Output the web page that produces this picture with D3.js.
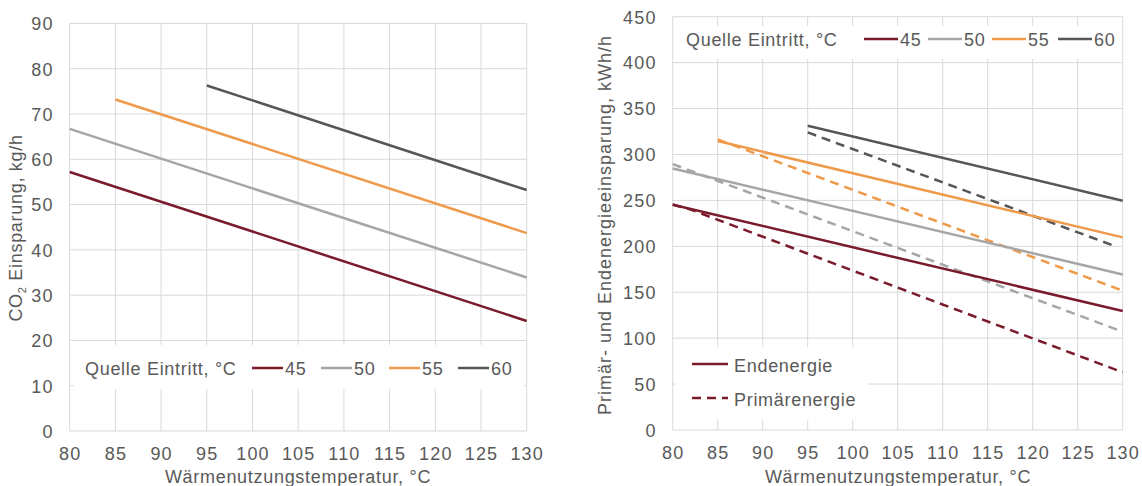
<!DOCTYPE html>
<html><head><meta charset="utf-8">
<script src="https://cdn.jsdelivr.net/npm/d3@7"></script>
<style>
body{margin:0;background:#fff;}
text{font-family:"Liberation Sans",Arial,sans-serif;fill:#595959;}
</style></head>
<body><svg id="c" width="1142" height="486"></svg>
<script>
// ---- data ----
const xTicks = [80,85,90,95,100,105,110,115,120,125,130];
const co2Ticks = [0,10,20,30,40,50,60,70,80,90];
const energyTicks = [0,50,100,150,200,250,300,350,400,450];
const sourceTemps = ["45","50","55","60"];
const seriesColors = ["#7a1b2b","#a6a6a6","#ee9a4a","#565656"];

// CO2 savings, kg/h  [temperature, value]
const co2_45 = [[80,57.2],[130,24.3]];
const co2_50 = [[80,66.7],[130,33.9]];
const co2_55 = [[85,73.2],[130,43.7]];
const co2_60 = [[95,76.3],[130,53.2]];

// Endenergie savings, kWh/h
const end_45 = [[80,245.3],[130,129.5]];
const end_50 = [[80,284.8],[130,169.4]];
const end_55 = [[85,314.6],[130,209.7]];
const end_60 = [[95,331.3],[130,249.6]];
// Primärenergie savings, kWh/h
const prim_45 = [[80,245.5],[82,240],[130,62.8]];
const prim_50 = [[80,289.5],[130,107]];
const prim_55 = [[85,316.4],[130,151.7]];
const prim_60 = [[95,324],[129.2,200]];

const svg = d3.select("#c");
const FS = 18;
const LS = "0.7px";

function panel(o){
  const x = d3.scaleLinear().domain([80,130]).range([o.x0,o.x1]);
  const y = d3.scaleLinear().domain([0,o.ymax]).range([o.y0,o.y1]);
  const g = svg.append("g");
  g.selectAll(".vg").data(xTicks).join("line")
    .attr("x1",d=>x(d)).attr("x2",d=>x(d)).attr("y1",o.y0).attr("y2",o.y1)
    .attr("stroke","#d9d9d9").attr("stroke-width",1);
  g.selectAll(".hg").data(o.yTicks).join("line")
    .attr("y1",d=>y(d)).attr("y2",d=>y(d)).attr("x1",o.x0).attr("x2",o.x1)
    .attr("stroke","#d9d9d9").attr("stroke-width",1);
  const ax = d3.axisBottom(x).tickValues(xTicks).tickSize(0).tickPadding(0);
  const ga = g.append("g").attr("transform",`translate(0,${o.y0+29})`).call(ax);
  ga.select(".domain").remove();
  ga.selectAll("text").attr("font-size",FS).attr("fill","#595959").attr("dy","0").attr("y",0)
    .style("letter-spacing","1.2px")
    .style("font-family","Liberation Sans, Arial, sans-serif");
  const ay = d3.axisLeft(y).tickValues(o.yTicks).tickSize(0).tickPadding(0);
  const gy = g.append("g").attr("transform",`translate(${o.x0-16},0)`).call(ay);
  gy.select(".domain").remove();
  gy.selectAll("text").attr("font-size",FS).attr("fill","#595959").attr("dy","0.35em").attr("x",0)
    .style("letter-spacing","1.2px")
    .style("font-family","Liberation Sans, Arial, sans-serif");
  return {x,y,g};
}

// ---------- left panel ----------
const L = panel({x0:69.7,x1:526.7,y0:431,y1:23.4,ymax:90,yTicks:co2Ticks});
const line = (p)=>d3.line().x(d=>p.x(d[0])).y(d=>p.y(d[1]));
L.g.append("rect").attr("x",74).attr("y",345).attr("width",450).attr("height",44).attr("fill","#fff");
const co2Series = [co2_45,co2_50,co2_55,co2_60];
co2Series.forEach((s,i)=>{
  L.g.append("path").datum(s).attr("d",line(L)).attr("fill","none")
    .attr("stroke",seriesColors[i]).attr("stroke-width",2.5);
});
L.g.append("text").attr("x",85).attr("y",369).attr("dy","0.35em").attr("font-size",FS).style("letter-spacing",LS).text("Quelle Eintritt, °C");
const lgX = [252,321,389,458];
sourceTemps.forEach((t,i)=>{
  L.g.append("line").attr("x1",lgX[i]).attr("x2",lgX[i]+31).attr("y1",368).attr("y2",368)
    .attr("stroke",seriesColors[i]).attr("stroke-width",2.5);
  L.g.append("text").attr("x",lgX[i]+33).attr("y",369).attr("dy","0.35em").attr("font-size",FS).style("letter-spacing",LS).text(t);
});
L.g.append("text").attr("x",298).attr("y",477).attr("dy","0.35em").attr("text-anchor","middle")
  .attr("font-size",FS).style("letter-spacing",LS).text("Wärmenutzungstemperatur, °C");
const t1 = L.g.append("text").attr("transform","translate(22,228) rotate(-90)").attr("text-anchor","middle")
  .attr("font-size",FS).style("letter-spacing",LS);
t1.append("tspan").text("CO");
t1.append("tspan").attr("font-size",11).attr("dy",4).text("2");
t1.append("tspan").attr("dy",-4).text(" Einsparung, kg/h");

// ---------- right panel ----------
const R = panel({x0:672.7,x1:1122.7,y0:430,y1:16.7,ymax:450,yTicks:energyTicks});
R.g.append("rect").attr("x",676).attr("y",26).attr("width",444).attr("height",33).attr("fill","#fff");
R.g.append("rect").attr("x",676).attr("y",347).attr("width",192).attr("height",73).attr("fill","#fff");
const endSeries = [end_45,end_50,end_55,end_60];
const primSeries = [prim_45,prim_50,prim_55,prim_60];
primSeries.forEach((s,i)=>{
  R.g.append("path").datum(s).attr("d",line(R)).attr("fill","none")
    .attr("stroke",seriesColors[i]).attr("stroke-width",2.5).attr("stroke-dasharray","9,6");
});
endSeries.forEach((s,i)=>{
  R.g.append("path").datum(s).attr("d",line(R)).attr("fill","none")
    .attr("stroke",seriesColors[i]).attr("stroke-width",2.5);
});
R.g.append("text").attr("x",686).attr("y",40).attr("dy","0.35em").attr("font-size",FS).style("letter-spacing",LS).text("Quelle Eintritt, °C");
const rgX = [864,928,992,1058];
sourceTemps.forEach((t,i)=>{
  R.g.append("line").attr("x1",rgX[i]).attr("x2",rgX[i]+34).attr("y1",39).attr("y2",39)
    .attr("stroke",seriesColors[i]).attr("stroke-width",2.5);
  R.g.append("text").attr("x",rgX[i]+36).attr("y",40).attr("dy","0.35em").attr("font-size",FS).style("letter-spacing",LS).text(t);
});
const typeNames = ["Endenergie","Primärenergie"];
typeNames.forEach((n,i)=>{
  const yy = 364 + i*34;
  R.g.append("line").attr("x1",692).attr("x2",728).attr("y1",yy).attr("y2",yy)
    .attr("stroke",seriesColors[0]).attr("stroke-width",2.5).attr("stroke-dasharray",i?"9,6":null);
  R.g.append("text").attr("x",734).attr("y",yy+2).attr("dy","0.35em").attr("font-size",FS).style("letter-spacing",LS).text(n);
});
R.g.append("text").attr("x",898).attr("y",477).attr("dy","0.35em").attr("text-anchor","middle")
  .attr("font-size",FS).style("letter-spacing",LS).text("Wärmenutzungstemperatur, °C");
R.g.append("text").attr("transform","translate(611,225) rotate(-90)").attr("text-anchor","middle")
  .attr("font-size",FS).style("letter-spacing","1px").text("Primär- und Endenergieeinsparung, kWh/h");
</script></body></html>
